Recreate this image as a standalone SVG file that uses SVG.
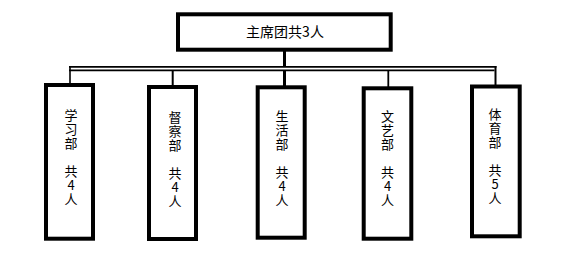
<svg xmlns="http://www.w3.org/2000/svg" width="586" height="257" viewBox="0 0 586 257">
<style>
.box{fill:#fff;stroke:#000;stroke-width:4}
.t{font-family:"Noto Sans CJK SC","Liberation Sans",sans-serif;font-size:13px;fill:#000;writing-mode:vertical-rl;text-orientation:upright;letter-spacing:1px}
.tt{font-family:"Noto Sans CJK SC","Liberation Sans",sans-serif;font-size:14px;fill:#000;text-anchor:middle}
.ln{stroke:#000;fill:none}
</style>
<rect width="586" height="257" fill="#fff"/>
<g id="connectors">
<line class="ln" x1="284.5" y1="51" x2="284.5" y2="67" stroke-width="3"/>
<line class="ln" x1="69" y1="66.8" x2="496.5" y2="66.8" stroke-width="1.7"/>
<line class="ln" x1="69" y1="70.3" x2="494.5" y2="70.3" stroke-width="1.7"/>
<line class="ln" x1="284.5" y1="70" x2="284.5" y2="86" stroke-width="3"/>
<line class="ln" x1="70" y1="66" x2="70" y2="84" stroke-width="1.6"/>
<line class="ln" x1="172.7" y1="70" x2="172.7" y2="86" stroke-width="2"/>
<line class="ln" x1="388.3" y1="70" x2="388.3" y2="87" stroke-width="1.8"/>
<line class="ln" x1="495.5" y1="66" x2="495.5" y2="85" stroke-width="2"/>
</g>
<g id="top">
<rect class="box" x="178" y="14.3" width="212.7" height="35.4"/>
<text class="tt" x="285" y="36.5">主席团共3人</text>
</g>
<g id="xuexi">
<rect class="box" x="46" y="85" width="47" height="153.7"/>
<text class="t" x="71" y="109">学习部　共4人</text>
</g>
<g id="ducha">
<rect class="box" x="149" y="87" width="47" height="152"/>
<text class="t" x="175" y="111">督察部　共4人</text>
</g>
<g id="shenghuo">
<rect class="box" x="257.7" y="87.3" width="47" height="150.4"/>
<text class="t" x="282" y="110">生活部　共4人</text>
</g>
<g id="wenyi">
<rect class="box" x="363.7" y="88.3" width="47.6" height="150.4"/>
<text class="t" x="387.5" y="110">文艺部　共4人</text>
</g>
<g id="tiyu">
<rect class="box" x="472" y="86.5" width="47.7" height="149.8"/>
<text class="t" x="495" y="108">体育部　共5人</text>
</g>
</svg>
